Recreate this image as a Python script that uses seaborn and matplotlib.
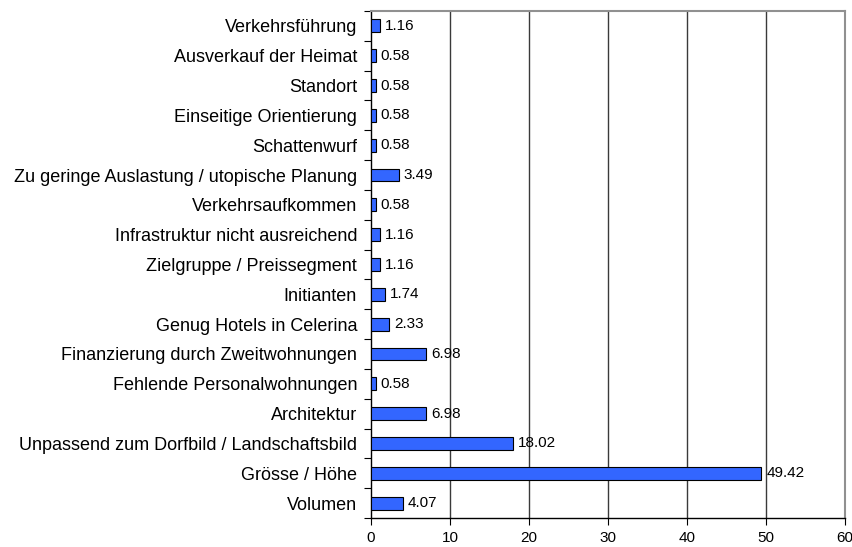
import matplotlib
matplotlib.use("Agg")
import matplotlib.pyplot as plt
import seaborn as sns
import pandas as pd
import numpy as np

categories = [
    "Verkehrsführung",
    "Ausverkauf der Heimat",
    "Standort",
    "Einseitige Orientierung",
    "Schattenwurf",
    "Zu geringe Auslastung / utopische Planung",
    "Verkehrsaufkommen",
    "Infrastruktur nicht ausreichend",
    "Zielgruppe / Preissegment",
    "Initianten",
    "Genug Hotels in Celerina",
    "Finanzierung durch Zweitwohnungen",
    "Fehlende Personalwohnungen",
    "Architektur",
    "Unpassend zum Dorfbild / Landschaftsbild",
    "Grösse / Höhe",
    "Volumen",
]
values = [1.16, 0.58, 0.58, 0.58, 0.58, 3.49, 0.58, 1.16, 1.16, 1.74, 2.33,
          6.98, 0.58, 6.98, 18.02, 49.42, 4.07]
x_ticks = [0, 10, 20, 30, 40, 50, 60]

df = pd.DataFrame({"cat": categories, "val": values})

sns.set_style("white")
plt.rcParams["font.family"] = ["Liberation Sans", "DejaVu Sans"]
plt.rcParams["text.color"] = "black"
plt.rcParams["xtick.color"] = "black"
plt.rcParams["ytick.color"] = "black"

fig = plt.figure(figsize=(8.53, 5.47), dpi=100)
ax = fig.add_axes([371 / 853, 1 - 518 / 547, (845 - 371) / 853, (518 - 11) / 547])

sns.barplot(data=df, x="val", y="cat", orient="h", color="#3366FF",
            saturation=1, width=0.43, edgecolor="black", linewidth=0.8, ax=ax, zorder=3)

ax.set_xlim(0, 60)
ax.set_ylim(len(categories) - 0.5, -0.5)
ax.set_xticks(x_ticks)
ax.set_xticklabels([str(t) for t in x_ticks], fontsize=11)
ax.set_xlabel("")
ax.set_ylabel("")
ax.tick_params(axis="y", which="major", left=True, length=0, labelsize=13, pad=10)
ax.set_yticks(np.arange(-0.5, len(categories), 1.0), minor=True)
ax.tick_params(axis="y", which="minor", left=True, length=5, color="black", width=0.8, direction="out")
ax.tick_params(axis="x", which="major", bottom=True, length=5, color="black", width=0.8, direction="out", pad=4)

for t in x_ticks[1:-1]:
    ax.axvline(t, color="#3a3a3a", linewidth=1.0, zorder=1)

ax.spines["left"].set_color("black")
ax.spines["bottom"].set_color("black")
ax.spines["top"].set_color("#909090")
ax.spines["right"].set_color("#909090")
for s in ax.spines.values():
    s.set_linewidth(1.0)
ax.spines["top"].set_linewidth(1.5)
ax.spines["right"].set_linewidth(1.5)

for i, v in enumerate(values):
    ax.text(v + 0.6, i, f"{v:.2f}", va="center", ha="left", fontsize=11, zorder=4)

fig.savefig("out.png", dpi=100)
